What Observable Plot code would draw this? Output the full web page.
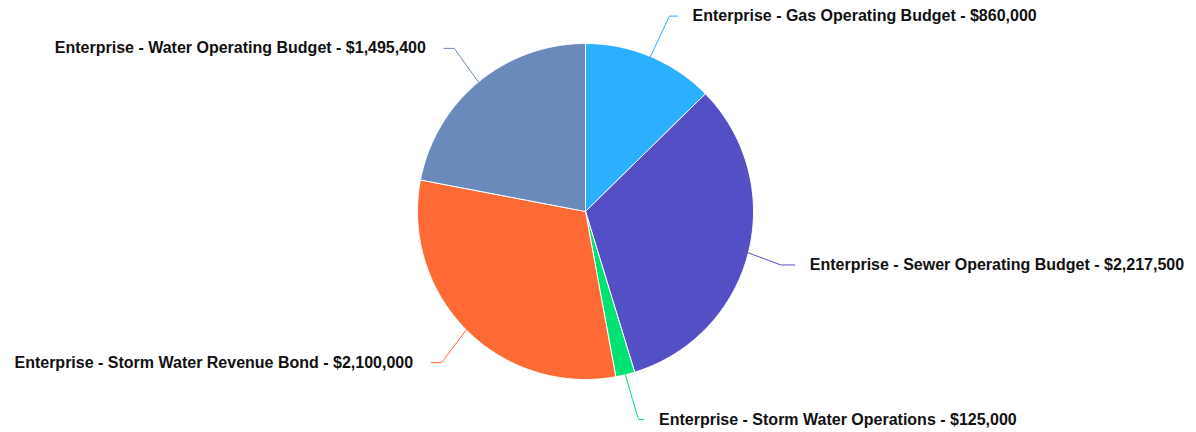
<!DOCTYPE html>
<html><head><meta charset="utf-8">
<script src="https://cdn.jsdelivr.net/npm/d3@7"></script>
<script src="https://cdn.jsdelivr.net/npm/@observablehq/plot@0.6"></script>
<style>body{margin:0;background:#fff;}</style>
</head><body><div id="chart"></div>
<script>
const categories = [
  "Enterprise - Gas Operating Budget",
  "Enterprise - Sewer Operating Budget",
  "Enterprise - Storm Water Operations",
  "Enterprise - Storm Water Revenue Bond",
  "Enterprise - Water Operating Budget"
];
const values = [860000, 2217500, 125000, 2100000, 1495400];
const colors = ["#2caffe", "#544fc5", "#00e272", "#fe6a35", "#6b8abc"];

const W = 1196, H = 432, cx = 585, cy = 211, R = 168;
const labelR = 213, labelXR = 216, crook = 0.7;
const total = d3.sum(values);
let acc = 0;
const slices = categories.map((name, i) => {
  const a0 = acc / total * 2 * Math.PI; acc += values[i];
  const a1 = acc / total * 2 * Math.PI;
  return {name, value: values[i], a0, a1, mid: (a0 + a1) / 2};
});
const poly = [];
for (const s of slices) {
  poly.push({name: s.name, x: 0, y: 0});
  const n = Math.max(2, Math.ceil((s.a1 - s.a0) / (Math.PI / 360)));
  for (let k = 0; k <= n; k++) {
    const a = s.a0 + (s.a1 - s.a0) * k / n;
    poly.push({name: s.name, x: R * Math.sin(a), y: R * Math.cos(a)});
  }
  poly.push({name: s.name, x: 0, y: 0});
}
const conn = [], labels = [];
for (const s of slices) {
  const left = Math.sin(s.mid) < 0;
  const ly = labelR * Math.cos(s.mid) - 1;
  const ex = R * Math.sin(s.mid), ey = R * Math.cos(s.mid);
  const endX = (left ? -1 : 1) * Math.sqrt(labelXR * labelXR - ly * ly);
  const crookX = ex + crook * (endX - ex);
  conn.push({name: s.name, x: ex, y: ey}, {name: s.name, x: crookX, y: ly}, {name: s.name, x: endX, y: ly});
  labels.push({name: s.name, left, x: endX + (left ? -18 : 15), y: ly,
    text: `${s.name} - $${d3.format(",")(s.value)}`});
}
const textOpts = {x: "x", y: "y", text: "text", fontSize: 16, fontWeight: "bold",
  fontFamily: "'Liberation Sans', Arial, sans-serif", fill: "#111", stroke: "white", strokeWidth: 2, lineAnchor: "middle"};
const chart = Plot.plot({
  width: W, height: H, margin: 0,
  style: {background: "#fff"},
  x: {domain: [-cx, W - cx], range: [0, W], axis: null},
  y: {domain: [-(H - cy), cy], range: [H, 0], axis: null},
  color: {domain: categories, range: colors},
  marks: [
    Plot.line(poly, {x: "x", y: "y", z: "name", fill: "name", stroke: "white", strokeWidth: 1, curve: "linear"}),
    Plot.line(conn, {x: "x", y: "y", z: "name", stroke: "name", strokeWidth: 1, curve: "linear"}),
    Plot.text(labels.filter(d => !d.left), {...textOpts, textAnchor: "start"}),
    Plot.text(labels.filter(d => d.left), {...textOpts, textAnchor: "end"})
  ]
});
document.getElementById("chart").append(chart);
</script></body></html>
